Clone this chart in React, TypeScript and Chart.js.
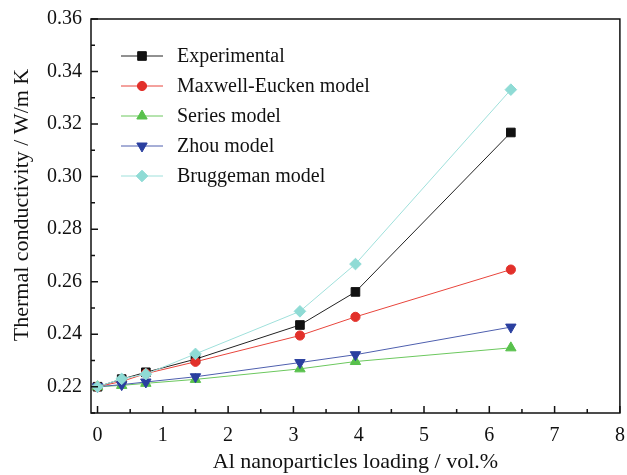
import React, { useEffect, useRef } from "react";
import { Chart, registerables } from "chart.js";

Chart.register(...registerables);

const loading = [0, 0.37, 0.74, 1.5, 3.1, 3.95, 6.33];
const experimental = [0.22, 0.2229, 0.2255, 0.2305, 0.2435, 0.2561, 0.3168];
const maxwellEucken = [0.22, 0.222, 0.225, 0.2295, 0.2395, 0.2466, 0.2646];
const seriesModel = [0.22, 0.2205, 0.2213, 0.2228, 0.2268, 0.2296, 0.2348];
const zhouModel = [0.22, 0.2208, 0.2218, 0.2238, 0.2292, 0.2322, 0.2427];
const bruggeman = [0.22, 0.223, 0.2248, 0.2325, 0.2487, 0.2667, 0.3331];

const seriesNames = [
  "Experimental",
  "Maxwell-Eucken model",
  "Series model",
  "Zhou model",
  "Bruggeman model",
];
const xTicks = [0, 1, 2, 3, 4, 5, 6, 7, 8];
const yTicks = [0.22, 0.24, 0.26, 0.28, 0.3, 0.32, 0.34, 0.36];

const FONT = "'Liberation Serif', 'Times New Roman', serif";

const styles = [
  { color: "#111111", line: "#222222", point: "rect", radius: 6.1, rotation: 0 },
  { color: "#e2302a", line: "#e8453c", point: "circle", radius: 4.6, rotation: 0 },
  { color: "#58c14c", line: "#6cc85e", point: "triangle", radius: 6, rotation: 0 },
  { color: "#2a3f9f", line: "#4e5fae", point: "triangle", radius: 6, rotation: 180 },
  { color: "#8fdbd5", line: "#9fe0db", point: "rectRot", radius: 5.8, rotation: 0 },
];

function drawMarker(ctx: CanvasRenderingContext2D, kind: number, x: number, y: number) {
  const s = styles[kind];
  ctx.save();
  ctx.fillStyle = s.color;
  ctx.strokeStyle = s.color;
  ctx.lineWidth = 1;
  ctx.beginPath();
  const r = s.radius;
  if (s.point === "rect") {
    const h = r * Math.SQRT1_2;
    ctx.rect(x - h, y - h, 2 * h, 2 * h);
  } else if (s.point === "circle") {
    ctx.arc(x, y, r, 0, Math.PI * 2);
  } else if (s.point === "triangle") {
    const dir = s.rotation === 180 ? -1 : 1;
    ctx.moveTo(x, y - dir * r);
    ctx.lineTo(x + r * Math.sin((2 * Math.PI) / 3), y - dir * r * Math.cos((2 * Math.PI) / 3));
    ctx.lineTo(x - r * Math.sin((2 * Math.PI) / 3), y - dir * r * Math.cos((2 * Math.PI) / 3));
    ctx.closePath();
  } else {
    ctx.moveTo(x - r, y);
    ctx.lineTo(x, y - r);
    ctx.lineTo(x + r, y);
    ctx.lineTo(x, y + r);
    ctx.closePath();
  }
  ctx.fill();
  ctx.stroke();
  ctx.restore();
}

const decorPlugin = {
  id: "decor",
  afterDraw(chart: any) {
    const ctx: CanvasRenderingContext2D = chart.ctx;
    const { left, right, top, bottom } = chart.chartArea;
    const xs = chart.scales.x;
    const ys = chart.scales.y;
    ctx.save();
    // frame
    ctx.strokeStyle = "#111";
    ctx.lineWidth = 1.5;
    ctx.strokeRect(left, top, right - left, bottom - top);
    // x ticks (inward)
    ctx.beginPath();
    for (let i = 0; i <= 16; i++) {
      const v = i * 0.5;
      const px = xs.getPixelForValue(v);
      const len = i % 2 === 0 ? 7 : 4;
      ctx.moveTo(px, bottom);
      ctx.lineTo(px, bottom - len);
    }
    // y ticks (inward)
    for (let i = 0; i <= 15; i++) {
      const v = 0.21 + i * 0.01;
      const py = ys.getPixelForValue(v);
      const len = i % 2 === 1 ? 7 : 4;
      ctx.moveTo(left, py);
      ctx.lineTo(left + len, py);
    }
    ctx.stroke();

    // axis titles
    ctx.fillStyle = "#111";
    ctx.font = `22px ${FONT}`;
    ctx.textAlign = "center";
    ctx.textBaseline = "middle";
    ctx.fillText("Al nanoparticles loading / vol.%", (left + right) / 2, 462);
    ctx.save();
    ctx.translate(22, 205);
    ctx.rotate(-Math.PI / 2);
    ctx.fillText("Thermal conductivity / W/m K", 0, 0);
    ctx.restore();

    // legend
    const legendY = [56, 86, 116, 146, 176];
    ctx.font = `20px ${FONT}`;
    ctx.textAlign = "left";
    for (let i = 0; i < seriesNames.length; i++) {
      const y = legendY[i];
      ctx.strokeStyle = styles[i].line;
      ctx.lineWidth = 1;
      ctx.beginPath();
      ctx.moveTo(121, y);
      ctx.lineTo(163, y);
      ctx.stroke();
      drawMarker(ctx, i, 142, y);
      ctx.fillStyle = "#111";
      ctx.fillText(seriesNames[i], 177, y + 1);
    }
    ctx.restore();
  },
};

export default function App() {
  const ref = useRef<HTMLCanvasElement | null>(null);
  useEffect(() => {
    document.body.style.margin = "0";
    const canvas = ref.current;
    if (!canvas) return;
    const values = [experimental, maxwellEucken, seriesModel, zhouModel, bruggeman];
    const drawOrder = [4, 3, 2, 1, 0];
    const datasets = values.map((vals, i) => ({
      label: seriesNames[i],
      data: loading.map((x, j) => ({ x, y: vals[j] })),
      borderColor: styles[i].line,
      backgroundColor: styles[i].color,
      pointBorderColor: styles[i].color,
      pointBackgroundColor: styles[i].color,
      borderWidth: 1,
      pointStyle: styles[i].point,
      pointRadius: styles[i].radius,
      pointRotation: styles[i].rotation,
      pointBorderWidth: 1,
      showLine: true,
      tension: 0,
      order: drawOrder[i],
      clip: false as any,
    }));
    const chart = new Chart(canvas, {
      type: "scatter",
      data: { datasets },
      options: {
        animation: false,
        responsive: false,
        devicePixelRatio: 1,
        layout: { padding: { top: 19, right: 5, left: 0, bottom: 0 } },
        plugins: { legend: { display: false }, tooltip: { enabled: false } },
        scales: {
          x: {
            type: "linear",
            min: -0.1,
            max: 8,
            grid: { display: false, drawTicks: false },
            border: { display: false },
            afterFit: (s: any) => {
              s.height = 62;
              s.paddingLeft = 0;
              s.paddingRight = 0;
            },
            afterBuildTicks: (s: any) => {
              s.ticks = xTicks.map((v) => ({ value: v }));
            },
            ticks: {
              color: "#111",
              padding: 11,
              maxRotation: 0,
              font: { family: FONT, size: 20 },
              callback: (v: any) => String(v),
            },
          },
          y: {
            type: "linear",
            min: 0.21,
            max: 0.36,
            grid: { display: false, drawTicks: false },
            border: { display: false },
            afterFit: (s: any) => {
              s.width = 91;
              s.paddingTop = 0;
              s.paddingBottom = 0;
            },
            afterBuildTicks: (s: any) => {
              s.ticks = yTicks.map((v) => ({ value: v }));
            },
            ticks: {
              color: "#111",
              padding: 9,
              font: { family: FONT, size: 20 },
              callback: (v: any) => Number(v).toFixed(2),
            },
          },
        },
      },
      plugins: [decorPlugin],
    });
    return () => chart.destroy();
  }, []);
  return (
    <div style={{ position: "absolute", left: 0, top: 0, width: 627, height: 475, background: "#fff" }}>
      <canvas ref={ref} width={627} height={475} style={{ width: 627, height: 475 }} />
    </div>
  );
}
